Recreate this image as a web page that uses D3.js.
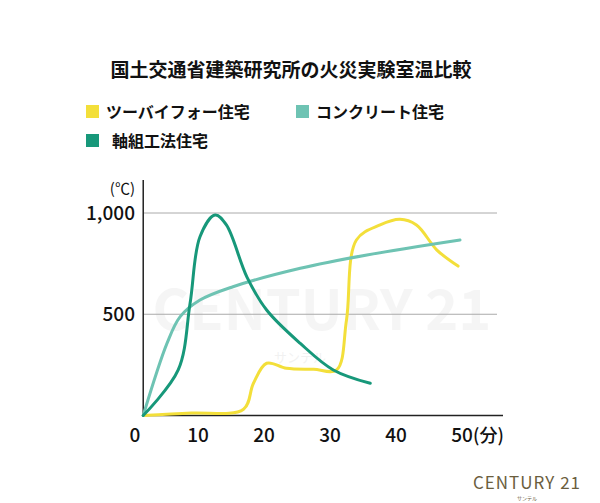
<!DOCTYPE html><html><head><meta charset="utf-8"><script src="https://cdn.jsdelivr.net/npm/d3@7"></script>
<style>body{margin:0;background:#fff}text{font-family:"Noto Sans CJK JP","Noto Sans",sans-serif}</style></head><body><svg width="600" height="503"></svg><script>
const seriesNames=["ツーバイフォー住宅","コンクリート住宅","軸組工法住宅"];
const colors=["#f3df3a","#6ec3b3","#17987a"];
const yellowT=[1.7,9.0,16.9,18.4,20.4,23.4,27.5,31.0,32.5,34.0,37.6,40.6,43.1,46.2,49.4];
const yellowV=[0,12,31,159,258,233,228,225,472,867,941,969,941,817,738];
const concT=[1.7,5.3,7.3,10.3,15.3,25.5,35.6,49.7];
const concV=[0,356,488,570,636,727,793,867];
const woodT=[1.7,7.0,8.8,10.3,12.6,14.3,17.4,20.4,25.5,30.5,36.1];
const woodV=[0,225,554,883,990,941,685,521,356,225,159];
const xTicks=[0,10,20,30,40,50];
const yTicks=[500,1000];
const svg=d3.select("svg");
const x=d3.scaleLinear().domain([0,50]).range([132,462]);
const y=d3.scaleLinear().domain([0,1000]).range([415.5,213]);
const ax=x(1.7);
svg.append("text").attr("x",322).attr("y",330).attr("text-anchor","middle").attr("font-size",56).attr("font-weight",600).attr("fill","#000").attr("opacity",0.035).text("CENTURY 21");
svg.append("text").attr("x",300).attr("y",362).attr("text-anchor","middle").attr("font-size",13).attr("fill","#000").attr("opacity",0.05).text("サンテル");
svg.append("text").attr("x",291).attr("y",77).attr("text-anchor","middle").attr("font-size",19).attr("font-weight",700).attr("fill","#111").text("国土交通省建築研究所の火災実験室温比較");
const leg=[[86,112,0],[296,112,1],[86,141,2]];
leg.forEach(([lx,ly,i])=>{svg.append("rect").attr("x",lx).attr("y",ly-7).attr("width",13).attr("height",13).attr("fill",colors[i]);
svg.append("text").attr("x",lx+(i==2?26:20)).attr("y",ly+6).attr("font-size",16).attr("font-weight",700).attr("fill","#111").text(seriesNames[i]);});
yTicks.forEach(v=>svg.append("line").attr("x1",ax).attr("x2",497).attr("y1",y(v)).attr("y2",y(v)).attr("stroke","#aaa").attr("stroke-width",1));
svg.append("line").attr("x1",ax).attr("x2",ax).attr("y1",180).attr("y2",y(0)).attr("stroke","#222").attr("stroke-width",1.5);
svg.append("line").attr("x1",ax).attr("x2",503).attr("y1",y(0)).attr("y2",y(0)).attr("stroke","#222").attr("stroke-width",1.5);
yTicks.forEach(v=>svg.append("text").attr("x",135).attr("y",y(v)+7).attr("text-anchor","end").attr("font-size",19).attr("font-weight",500).attr("fill","#111").text(d3.format(",")(v)));
svg.append("text").attr("x",135).attr("y",194).attr("text-anchor","end").attr("font-size",15).attr("fill","#111").text("(℃)");
xTicks.forEach(v=>svg.append("text").attr("x",x(v)+(v==0?3:0)).attr("y",442).attr("text-anchor","middle").attr("font-size",19).attr("font-weight",500).attr("fill","#111").text(v));
svg.append("text").attr("x",x(50)+11).attr("y",442).attr("font-size",18).attr("font-weight",500).attr("fill","#111").text("(分)");
const line=d3.line().x(d=>x(d[0])).y(d=>y(d[1])).curve(d3.curveCatmullRom.alpha(0.5));
[[yellowT,yellowV,0],[concT,concV,1],[woodT,woodV,2]].forEach(([t,v,i])=>svg.append("path").attr("d",line(t.map((a,j)=>[a,v[j]]))).attr("fill","none").attr("stroke",colors[i]).attr("stroke-width",3).attr("stroke-linecap","round"));
svg.append("text").attr("x",527).attr("y",489).attr("text-anchor","middle").attr("font-size",17).attr("letter-spacing",1).attr("fill","#6b5e3e").text("CENTURY 21");
svg.append("text").attr("x",527).attr("y",500).attr("text-anchor","middle").attr("font-size",5).attr("fill","#6b5e3e").text("サンテル");
</script></body></html>
